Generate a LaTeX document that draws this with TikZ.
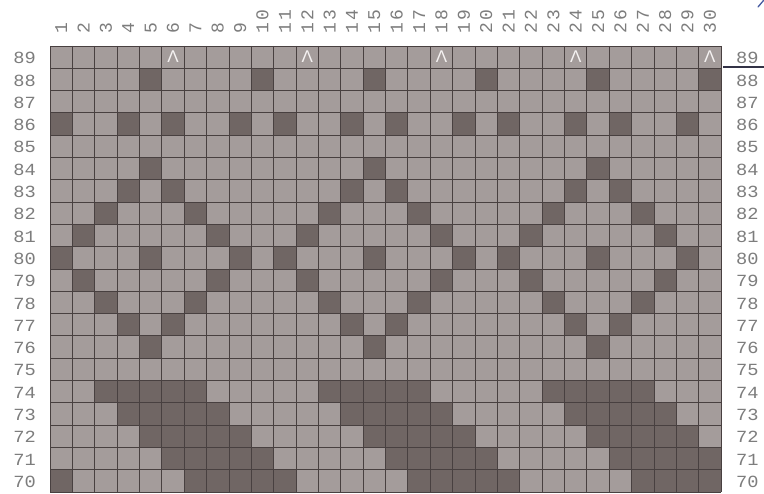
\documentclass[tikz,border=0pt]{standalone}
\usepackage{fontspec}
\newfontfamily\rowfont[FakeStretch=1.1]{Liberation Mono}
\newfontfamily\colfont[LetterSpace=15]{Liberation Mono}
\newfontfamily\capfont{Liberation Sans}
\definecolor{cellL}{RGB}{164,156,155}
\definecolor{cellD}{RGB}{112,102,100}
\definecolor{gridC}{RGB}{72,64,64}
\definecolor{labelC}{RGB}{125,125,125}
\definecolor{markC}{RGB}{245,242,242}
\definecolor{penC}{RGB}{50,50,70}
\definecolor{blueC}{RGB}{70,90,160}
\begin{document}
\begin{tikzpicture}[x=1pt,y=-1pt,
  rowlab/.style={font=\rowfont\fontsize{17}{17}\selectfont, text=labelC, inner sep=0pt},
  collab/.style={font=\colfont\fontsize{18}{18}\selectfont, text=labelC, inner sep=0pt, rotate=90, anchor=west},
  dec/.style={font=\capfont\fontsize{17}{17}\selectfont, text=markC, inner sep=0pt},
  gridline/.style={draw=gridC, line width=0.9pt},
  darkcell/.style={fill=cellD}]
\useasboundingbox (0,0) rectangle (764,494);
\fill[white] (0,0) rectangle (764,494);
\def\xo{50}\def\yo{46}\def\cw{22.37}\def\ch{22.3}
% base cells
\fill[cellL] (\xo,\yo) rectangle ({\xo+30*\cw},{\yo+20*\ch});
% dark cells
\foreach \r/\cols in {
  88/{5,10,15,20,25,30},
  86/{1,4,6,9,11,14,16,19,21,24,26,29},
  84/{5,15,25},
  83/{4,6,14,16,24,26},
  82/{3,7,13,17,23,27},
  81/{2,8,12,18,22,28},
  80/{1,5,9,11,15,19,21,25,29},
  79/{2,8,12,18,22,28},
  78/{3,7,13,17,23,27},
  77/{4,6,14,16,24,26},
  76/{5,15,25},
  74/{3,4,5,6,7,13,14,15,16,17,23,24,25,26,27},
  73/{4,5,6,7,8,14,15,16,17,18,24,25,26,27,28},
  72/{5,6,7,8,9,15,16,17,18,19,25,26,27,28,29},
  71/{6,7,8,9,10,16,17,18,19,20,26,27,28,29,30},
  70/{1,7,8,9,10,11,17,18,19,20,21,27,28,29,30}}{
  \foreach \c in \cols {
    \fill[darkcell] ({\xo+(\c-1)*\cw},{\yo+(89-\r)*\ch}) rectangle ++(\cw,\ch);
  }
}
% grid lines
\foreach \i in {0,...,30} \draw[gridline] ({\xo+\i*\cw},\yo) -- ++(0,{20*\ch});
\foreach \j in {0,...,20} \draw[gridline] (\xo,{\yo+\j*\ch}) -- ++({30*\cw},0);
% decrease marks in row 89
\foreach \c in {6,12,18,24,30}
  \node[dec] (m\c) at ({\xo+(\c-0.5)*\cw},{\yo+0.5*\ch-0.5}) {Λ};
% row labels
\foreach \r in {70,...,89} {
  \node[rowlab, anchor=east] (lL\r) at (36,{\yo+(89-\r+0.5)*\ch+1}) {\r};
  \node[rowlab, anchor=west] (lR\r) at (736,{\yo+(89-\r+0.5)*\ch+1}) {\r};
}
% column labels
\foreach \c in {1,...,30}
  \node[collab] (c\c) at ({\xo+(\c-0.5)*\cw},34) {\c};
% marker line beside row 89
\coordinate (lineEnd) at (764,67);
\draw[penC, line width=1.4pt] ({\xo+30*\cw+2},67) -- (lineEnd);
% small pen stroke at top right
\draw[blueC, line width=1.3pt, line cap=round] (758,7) -- (763.5,0.5);
\end{tikzpicture}
\end{document}
